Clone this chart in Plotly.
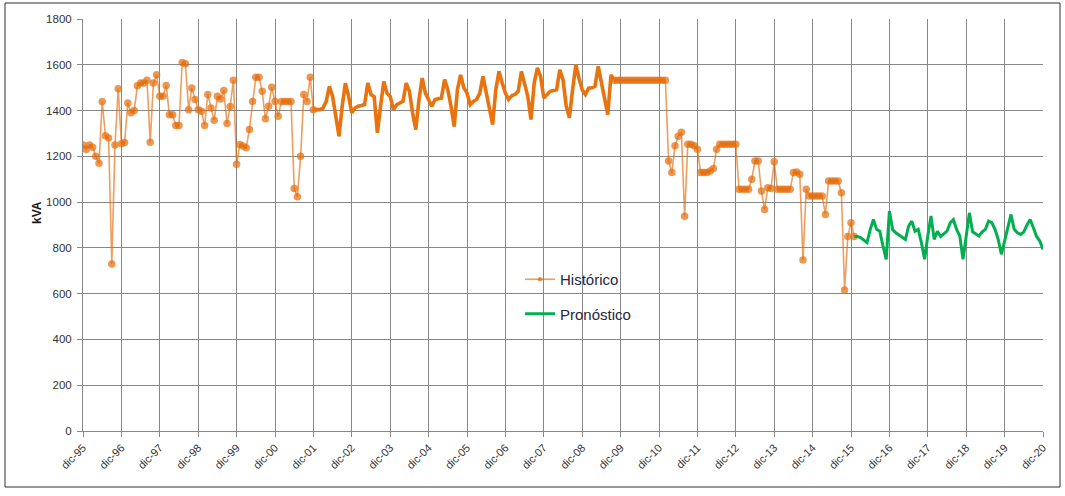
import plotly.graph_objects as go

# ---- categories (monthly, dic-95 .. dic-20) ----
mes = ["ene", "feb", "mar", "abr", "may", "jun", "jul", "ago", "sep", "oct", "nov", "dic"]
months = ["dic-95"] + [f"{mes[i % 12]}-{(96 + i // 12) % 100:02d}" for i in range(300)]

tick_labels = ["dic-95", "dic-96", "dic-97", "dic-98", "dic-99", "dic-00", "dic-01",
               "dic-02", "dic-03", "dic-04", "dic-05", "dic-06", "dic-07", "dic-08",
               "dic-09", "dic-10", "dic-11", "dic-12", "dic-13", "dic-14", "dic-15",
               "dic-16", "dic-17", "dic-18", "dic-19", "dic-20"]

# ---- Histórico (kVA), dic-95 .. ene-16 ----
historico = [
    1250, 1230, 1250, 1240, 1200, 1170, 1440, 1290, 1280, 730, 1250, 1495,
    1255, 1260, 1433, 1390, 1400, 1508, 1520, 1520, 1532, 1262, 1520, 1556,
    1462, 1462, 1510, 1382, 1382, 1335, 1335, 1610, 1604, 1404, 1498, 1448,
    1404, 1397, 1335, 1470, 1411, 1358, 1462, 1450, 1488, 1343, 1418, 1532,
    1165, 1252, 1245, 1237, 1317, 1440, 1546, 1546, 1484, 1364, 1419, 1502,
    1440, 1375, 1440, 1440, 1440, 1440, 1060, 1023, 1200, 1470, 1440, 1546,
    1404, 1404, 1404, 1411, 1440, 1506, 1462, 1375, 1288, 1420, 1520, 1462,
    1390, 1411, 1419, 1422, 1426, 1520, 1470, 1460, 1303, 1420, 1527, 1476,
    1462, 1404, 1425, 1433, 1440, 1520, 1484, 1390, 1317, 1448, 1542, 1476,
    1450, 1419, 1448, 1450, 1455, 1535, 1491, 1419, 1330, 1491, 1556, 1500,
    1476, 1426, 1440, 1448, 1476, 1549, 1484, 1404, 1339, 1491, 1571, 1520,
    1476, 1448, 1465, 1470, 1484, 1571, 1520, 1462, 1361, 1520, 1586, 1549,
    1455, 1470, 1484, 1488, 1491, 1578, 1535, 1420, 1368, 1491, 1600, 1540,
    1491, 1470, 1498, 1500, 1506, 1593, 1527, 1450, 1382, 1556, 1532, 1532,
    1532, 1532, 1532, 1532, 1532, 1532, 1532, 1532, 1532, 1532, 1532, 1532,
    1532, 1532, 1532, 1180, 1129, 1246, 1288, 1305, 938, 1253, 1253, 1246,
    1231, 1129, 1129, 1129, 1136, 1147, 1231, 1253, 1253, 1253, 1253, 1253,
    1253, 1056, 1056, 1056, 1056, 1100, 1180, 1180, 1048, 968, 1063, 1060,
    1176, 1056, 1056, 1056, 1056, 1056, 1129, 1132, 1122, 747, 1056, 1027,
    1027, 1027, 1027, 1027, 946, 1092, 1092, 1092, 1092, 1041, 616, 850,
    910, 850,
]

# ---- Pronóstico (kVA), ene-16 .. dic-20 ----
pronostico = [
    850, 850, 845, 835, 823, 880, 924, 881, 873, 808, 750, 961,
    880, 866, 855, 845, 837, 895, 917, 873, 881, 823, 750, 852,
    939, 837, 873, 850, 860, 873, 910, 924, 881, 852, 750, 852,
    953, 870, 859, 852, 870, 881, 917, 910, 881, 837, 772, 830,
    880, 946, 881, 866, 859, 870, 900, 924, 888, 850, 830, 793,
]

# months (dic-01 .. oct-09) drawn as a smooth thick line without markers
SMOOTH_START, SMOOTH_END = 72, 166

x_hist = months[:len(historico)]
x_pron = months[len(historico) - 1:len(historico) - 1 + len(pronostico)]
marker_sizes = [0 if SMOOTH_START < i < SMOOTH_END else 7.5 for i in range(len(historico))]

ORANGE = "#E46C0A"
GREEN = "#00B050"
GRID = "#878787"
TXT = "#333333"
FONT = "Liberation Sans"

# plot-area pixel box (in the 1065x496 page)
L, R, T, B = 83, 1043, 19, 431
W, H = R - L, B - T


def px_x(x):
    return (x - L) / W


def px_y(y):
    return (B - y) / H


fig = go.Figure()
fig.add_trace(go.Scatter(
    x=x_hist, y=historico, name="Histórico", mode="lines+markers",
    line=dict(color="rgba(228,108,10,0.65)", width=1.6),
    marker=dict(color=ORANGE, size=marker_sizes, line=dict(width=0)),
    legendgroup="h",
))
fig.add_trace(go.Scatter(
    x=x_hist[SMOOTH_START:SMOOTH_END + 1], y=historico[SMOOTH_START:SMOOTH_END + 1],
    mode="lines", line=dict(color="#E8730F", width=3.6),
    showlegend=False, legendgroup="h", hoverinfo="skip",
))
fig.add_trace(go.Scatter(
    x=x_pron, y=pronostico, name="Pronóstico", mode="lines",
    line=dict(color=GREEN, width=3),
    legendgroup="p",
))

fig.update_layout(
    width=1065, height=496,
    margin=dict(l=L, r=1065 - R, t=T, b=496 - B),
    paper_bgcolor="white", plot_bgcolor="white",
    font=dict(family=FONT, color=TXT),
    showlegend=True,
    legend=dict(x=px_x(520), y=px_y(263), xanchor="left", yanchor="top",
                bgcolor="rgba(0,0,0,0)", font=dict(size=15, color="#262640", family=FONT),
                tracegroupgap=12, itemwidth=30),
    xaxis=dict(type="category", categoryorder="array", categoryarray=months,
               range=[0, 300], tickmode="array", tickvals=tick_labels, ticktext=tick_labels,
               tickangle=-45, tickfont=dict(size=11, color=TXT, family=FONT),
               showgrid=True, gridcolor=GRID, gridwidth=1,
               ticks="outside", ticklen=5, tickcolor=GRID,
               showline=True, linecolor=GRID, linewidth=1, zeroline=False),
    yaxis=dict(range=[0, 1800], dtick=200, tick0=0,
               tickfont=dict(size=11.5, color=TXT, family=FONT),
               ticklabelstandoff=3,
               showgrid=True, gridcolor=GRID, gridwidth=1,
               ticks="outside", ticklen=5, tickcolor=GRID,
               showline=True, linecolor=GRID, linewidth=1, zeroline=False),
    annotations=[dict(text="<b>kVA</b>", xref="paper", yref="paper",
                      x=px_x(28), y=px_y(213), textangle=-90, showarrow=False,
                      font=dict(size=12, color="#1a1a1a", family=FONT))],
    shapes=[dict(type="rect", xref="paper", yref="paper",
                 x0=px_x(5), x1=px_x(1060), y0=px_y(487), y1=px_y(3),
                 line=dict(color="#303030", width=1), fillcolor="rgba(0,0,0,0)",
                 layer="above")],
)

fig.write_html("out.html", config={"displayModeBar": False},
               post_script="document.body.style.margin='0';")
